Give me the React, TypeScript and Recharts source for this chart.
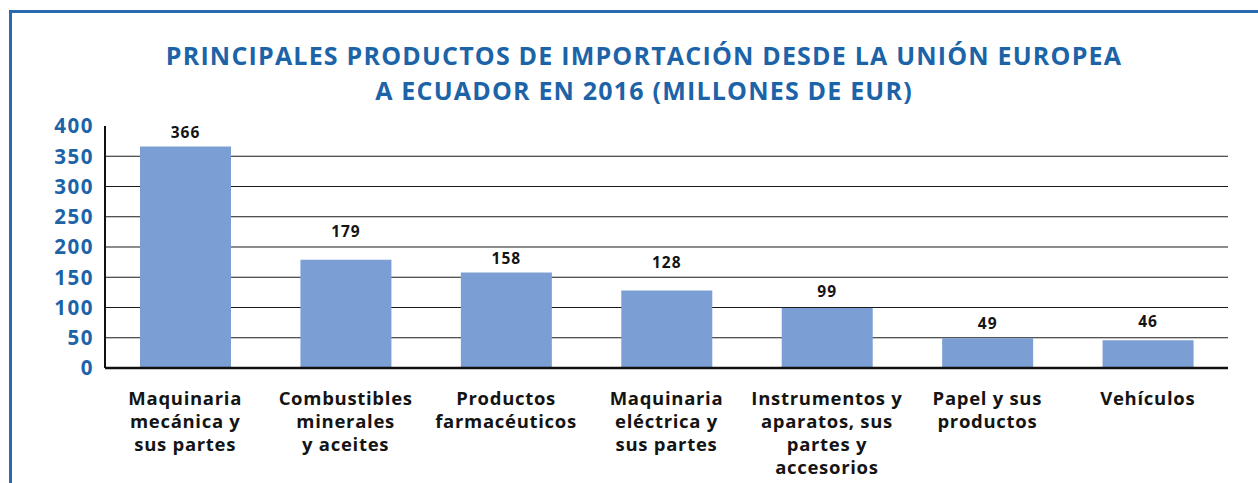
import React from 'react';
import { BarChart, Bar, XAxis, YAxis, CartesianGrid, LabelList } from 'recharts';

const categories = [
  'Maquinaria\nmecánica y\nsus partes',
  'Combustibles\nminerales\ny aceites',
  'Productos\nfarmacéuticos',
  'Maquinaria\neléctrica y\nsus partes',
  'Instrumentos y\naparatos, sus\npartes y\naccesorios',
  'Papel y sus\nproductos',
  'Vehículos',
];
const values = [366, 179, 158, 128, 99, 49, 46];
const yTicks = [0, 50, 100, 150, 200, 250, 300, 350, 400];
const gridValues = [50, 100, 150, 200, 250, 300, 350];
const titleLines = [
  'PRINCIPALES PRODUCTOS DE IMPORTACIÓN DESDE LA UNIÓN EUROPEA',
  'A ECUADOR EN 2016 (MILLONES DE EUR)',
];

// styling: distance (px) of each value label above its bar, as placed in the original
const labelGaps = [15, 29, 14, 29, 17.5, 15, 19];

const data = categories.map((c, i) => ({ name: c, value: values[i] }));

const FONT = '"Open Sans", Lato, sans-serif';
const BLUE = '#1C63A8';

const XTick = (props: any) => {
  const { x, y, payload } = props;
  const lines = String(payload.value).split('\n');
  return (
    <g transform={`translate(${x},${y})`}>
      <text
        textAnchor="middle"
        fontFamily={FONT}
        fontSize={18.5}
        fontWeight={700}
        fill="#141414"
        letterSpacing={0.7}
      >
        {lines.map((l, i) => (
          <tspan key={i} x={0} dy={i === 0 ? 35 : 23}>
            {l}
          </tspan>
        ))}
      </text>
    </g>
  );
};

const ValueLabel = (props: any) => {
  const { x, y, width, value, index } = props;
  const gap = labelGaps[index] ?? 15;
  return (
    <text
      x={Number(x) + Number(width) / 2}
      y={Number(y) - gap}
      textAnchor="middle"
      dominantBaseline="central"
      fontFamily={FONT}
      fontSize={15.5}
      fontWeight={700}
      fill="#141414"
      letterSpacing={1}
    >
      {value}
    </text>
  );
};

export default function App() {
  return (
    <div style={{ position: 'absolute', left: 0, top: 0, width: 1258, height: 483, background: '#fff', overflow: 'hidden' }}>
      <div
        style={{
          position: 'absolute',
          left: 9,
          top: 10,
          width: 1300,
          height: 500,
          borderLeft: '3px solid #2A6BAF',
          borderTop: '3px solid #2A6BAF',
          boxSizing: 'border-box',
        }}
      />
      <div
        style={{
          position: 'absolute',
          left: 0,
          top: 37.5,
          width: 1288,
          textAlign: 'center',
          fontFamily: FONT,
          fontWeight: 700,
          fontSize: 25,
          letterSpacing: 1.2,
          lineHeight: '35px',
          color: BLUE,
        }}
      >
        {titleLines.map((t, i) => (
          <div key={i}>{t}</div>
        ))}
      </div>
      <div style={{ position: 'absolute', left: 0, top: 0 }}>
        <BarChart
          width={1258}
          height={483}
          data={data}
          margin={{ top: 126, right: 30, bottom: 0, left: 25 }}
        >
          <CartesianGrid vertical={false} stroke="#1a1a1a" strokeWidth={1.2} horizontalValues={gridValues} />
          <XAxis
            dataKey="name"
            height={115}
            interval={0}
            tick={<XTick />}
            tickLine={false}
            tickSize={0}
            axisLine={{ stroke: '#111', strokeWidth: 2.5 }}
          />
          <YAxis
            width={80}
            domain={[0, 400]}
            ticks={yTicks}
            interval={0}
            tickLine={false}
            tickSize={0}
            tickMargin={11}
            axisLine={{ stroke: '#111', strokeWidth: 2 }}
            tick={{ fill: BLUE, fontSize: 20.5, fontWeight: 700, fontFamily: FONT, letterSpacing: 1.5 }}
          />
          <Bar dataKey="value" fill="#7B9FD4" barSize={91} isAnimationActive={false}>
            <LabelList dataKey="value" content={<ValueLabel />} />
          </Bar>
        </BarChart>
      </div>
    </div>
  );
}
